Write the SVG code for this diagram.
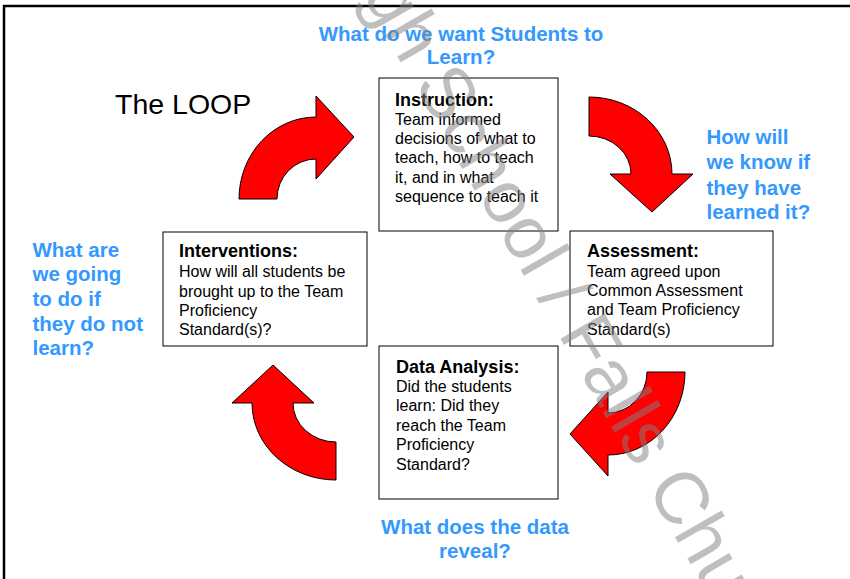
<svg xmlns="http://www.w3.org/2000/svg" width="850" height="579" viewBox="0 0 850 579">
  <style>
    .box { fill: #fff; stroke: #000; stroke-width: 1; }
    .ttl { font-family: "Liberation Sans", Arial, sans-serif; font-size: 18px; font-weight: bold; fill: #000; }
    .bd { font-family: "Liberation Sans", Arial, sans-serif; font-size: 16px; fill: #000; }
    .q { font-family: "Liberation Sans", Arial, sans-serif; font-size: 20.5px; font-weight: bold; fill: #3399ff; }
    .arrow { fill: #ff0000; stroke: #000; stroke-width: 1; stroke-linejoin: miter; }
    .wm { font-family: "Liberation Sans", Arial, sans-serif; font-size: 74px; fill: #808080; fill-opacity: 0.5; }
  </style>
  <rect x="0" y="0" width="850" height="579" fill="#fff"/>
  <g id="frame" stroke="#000" stroke-width="2.5">
    <line x1="3" y1="6" x2="850" y2="6"/>
    <line x1="4" y1="5" x2="4" y2="579"/>
  </g>
  <text x="115" y="114" font-family="Liberation Sans, Arial, sans-serif" font-size="28.5" fill="#000">The LOOP</text>

  <g id="connectors">
    <path class="arrow" d="M239,199 A77,82 0 0,1 316,117 L316,96 L354,137 L316,179 L316,159 A39,40 0 0,0 277,199 Z"/>
    <path class="arrow" d="M589,97 A83,77 0 0,1 672,174 L693,174 L652,212 L610,174 L631,174 A42,38 0 0,0 589,136 Z"/>
    <path class="arrow" d="M685,372 A77,83 0 0,1 608,455 L608,476 L570,434 L608,392 L608,413 A39,41 0 0,0 647,372 Z"/>
    <path class="arrow" d="M336,480 A84,77 0 0,1 252,403 L232,403 L273,365 L314,403 L293,403 A43,39 0 0,0 336,442 Z"/>
  </g>

  <g id="instruction">
    <rect class="box" x="379" y="78" width="179" height="153"/>
    <text class="ttl" x="395" y="106">Instruction:</text>
    <text class="bd" x="395" y="124.7">Team informed</text>
    <text class="bd" x="395" y="144">decisions of what to</text>
    <text class="bd" x="395" y="163.3">teach, how to teach</text>
    <text class="bd" x="395" y="182.7">it, and in what</text>
    <text class="bd" x="395" y="202">sequence to teach it</text>
  </g>

  <g id="assessment">
    <rect class="box" x="570" y="231" width="203" height="115"/>
    <text class="ttl" x="587" y="257">Assessment:</text>
    <text class="bd" x="587" y="276.5">Team agreed upon</text>
    <text class="bd" x="587" y="296">Common Assessment</text>
    <text class="bd" x="587" y="315.3">and Team Proficiency</text>
    <text class="bd" x="587" y="334.6">Standard(s)</text>
  </g>

  <g id="data-analysis">
    <rect class="box" x="379" y="346" width="179" height="153"/>
    <text class="ttl" x="396" y="372.5">Data Analysis:</text>
    <text class="bd" x="396" y="391.7">Did the students</text>
    <text class="bd" x="396" y="411.2">learn: Did they</text>
    <text class="bd" x="396" y="430.6">reach the Team</text>
    <text class="bd" x="396" y="450">Proficiency</text>
    <text class="bd" x="396" y="469.5">Standard?</text>
  </g>

  <g id="interventions">
    <rect class="box" x="163" y="232" width="204" height="114"/>
    <text class="ttl" x="179" y="257.3">Interventions:</text>
    <text class="bd" x="179" y="277.3">How will all students be</text>
    <text class="bd" x="179" y="296.5">brought up to the Team</text>
    <text class="bd" x="179" y="315.8">Proficiency</text>
    <text class="bd" x="179" y="335">Standard(s)?</text>
  </g>

  <g id="q-top">
    <text class="q" x="461" y="40.7" text-anchor="middle">What do we want Students to</text>
    <text class="q" x="461" y="64" text-anchor="middle">Learn?</text>
  </g>
  <g id="q-right">
    <text class="q" x="706.5" y="144">How will</text>
    <text class="q" x="706.5" y="169.3">we know if</text>
    <text class="q" x="706.5" y="194.6">they have</text>
    <text class="q" x="706.5" y="219.3">learned it?</text>
  </g>
  <g id="q-left">
    <text class="q" x="32.5" y="256.5">What are</text>
    <text class="q" x="32.5" y="281.2">we going</text>
    <text class="q" x="32.5" y="306">to do if</text>
    <text class="q" x="32.5" y="330.8">they do not</text>
    <text class="q" x="32.5" y="355.3">learn?</text>
  </g>
  <g id="q-bottom">
    <text class="q" x="475" y="534.3" text-anchor="middle">What does the data</text>
    <text class="q" x="475" y="558.3" text-anchor="middle">reveal?</text>
  </g>

  <text class="wm" transform="translate(362,-5) rotate(60)">gh School / Falls Chu</text>
</svg>
